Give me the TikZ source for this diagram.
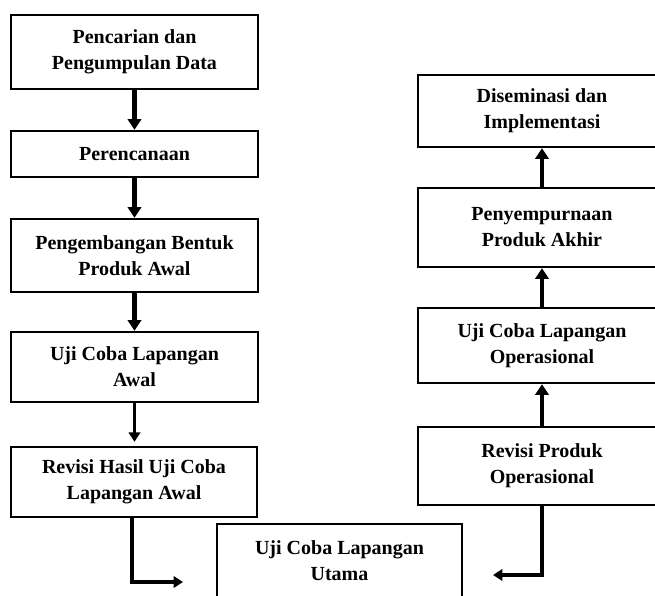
\documentclass[tikz,border=0pt]{standalone}
\usepackage{fontspec}
\setmainfont{Liberation Serif}
\usetikzlibrary{arrows.meta}
\begin{document}
\begin{tikzpicture}[x=0.75pt,y=-0.75pt,
  stepbox/.style={draw, line width=1.8pt, fill=white, align=center,
    font=\bfseries\fontsize{15}{19.5}\selectfont, inner sep=0pt},
  flow/.style={line width=3.6pt, -{Triangle[width=10pt,length=8pt]}},
  thinflow/.style={line width=2.4pt, -{Triangle[width=8.5pt,length=7pt]}}]
\useasboundingbox (0,0) rectangle (655,595);
\clip (0,0) rectangle (655,595);

% left column
\node[stepbox, minimum width=247*0.75pt, minimum height=74*0.75pt] (b1) at (134.5,52)
  {Pencarian dan\\Pengumpulan Data};
\node[stepbox, minimum width=247*0.75pt, minimum height=46*0.75pt] (b2) at (134.5,154)
  {Perencanaan};
\node[stepbox, minimum width=247*0.75pt, minimum height=73*0.75pt] (b3) at (134.5,255.5)
  {Pengembangan Bentuk\\Produk Awal};
\node[stepbox, minimum width=247*0.75pt, minimum height=70*0.75pt] (b4) at (134.5,367)
  {Uji Coba Lapangan\\Awal};
\node[stepbox, minimum width=246*0.75pt, minimum height=70*0.75pt] (b5) at (134,482)
  {Revisi Hasil Uji Coba\\Lapangan Awal};

% main field trial
\node[stepbox, minimum width=245*0.75pt, minimum height=74*0.75pt] (u) at (339.5,561)
  {Uji Coba Lapangan\\Utama};

% right column
\node[stepbox, minimum width=248*0.75pt, minimum height=72*0.75pt] (r1) at (542,111)
  {Diseminasi dan\\Implementasi};
\node[stepbox, minimum width=248*0.75pt, minimum height=79*0.75pt] (r2) at (542,227.5)
  {Penyempurnaan\\Produk Akhir};
\node[stepbox, minimum width=248*0.75pt, minimum height=75*0.75pt] (r3) at (542,345.5)
  {Uji Coba Lapangan\\Operasional};
\node[stepbox, minimum width=248*0.75pt, minimum height=78*0.75pt] (r4) at (542,466)
  {Revisi Produk\\Operasional};

% connectors
\draw[flow] (b1.south) -- (b2.north);
\draw[flow] (b2.south) -- (b3.north);
\draw[flow] (b3.south) -- (b4.north);
\draw[thinflow] (b4.south) -- ([yshift=4*0.75pt]b4.south |- b5.north);

\coordinate (lend) at (183,582);
\coordinate (rend) at (493,575);
\draw[thinflow] (b5.south -| 132,0) |- (lend);
\draw[thinflow] (r4.south) |- (rend);

\draw[flow] (r4.north) -- (r3.south);
\draw[flow] (r3.north) -- (r2.south);
\draw[flow] (r2.north) -- (r1.south);
\end{tikzpicture}
\end{document}
